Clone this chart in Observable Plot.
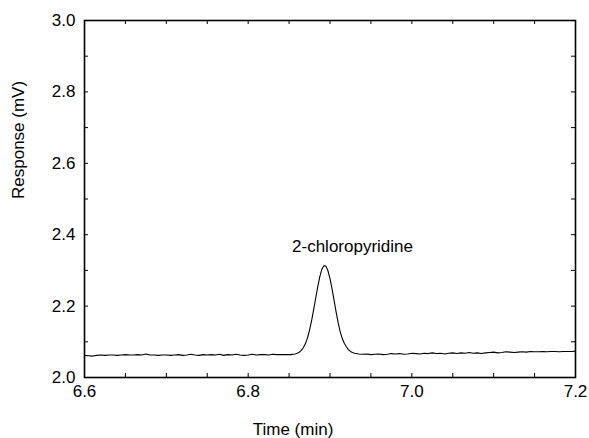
<!DOCTYPE html>
<html>
<head>
<meta charset="utf-8">
<script src="https://cdn.jsdelivr.net/npm/d3@7"></script>
<script src="https://cdn.jsdelivr.net/npm/@observablehq/plot@0.6"></script>
<style>
  html, body { margin: 0; padding: 0; background: #fff; }
</style>
</head>
<body>
<div id="chart"></div>
<script>
const time = [
  6.600, 6.605, 6.610, 6.615, 6.620, 6.625, 6.630, 6.635, 6.640, 6.645,
  6.650, 6.655, 6.660, 6.665, 6.670, 6.675, 6.680, 6.685, 6.690, 6.695,
  6.700, 6.705, 6.710, 6.715, 6.720, 6.725, 6.730, 6.735, 6.740, 6.745,
  6.750, 6.755, 6.760, 6.765, 6.770, 6.775, 6.780, 6.785, 6.790, 6.795,
  6.800, 6.805, 6.810, 6.815, 6.820, 6.825, 6.830, 6.835, 6.840, 6.845,
  6.8500, 6.8525, 6.8550, 6.8575, 6.8600, 6.8625, 6.8650, 6.8675, 6.8700, 6.8725,
  6.8750, 6.8775, 6.8800, 6.8825, 6.8850, 6.8875, 6.8900, 6.8925, 6.8950, 6.8975,
  6.9000, 6.9025, 6.9050, 6.9075, 6.9100, 6.9125, 6.9150, 6.9175, 6.9200, 6.9225,
  6.9250, 6.9275, 6.9300, 6.9325,
  6.935, 6.940, 6.945, 6.950, 6.955, 6.960, 6.965, 6.970, 6.975, 6.980,
  6.985, 6.990, 6.995, 7.000, 7.005, 7.010, 7.015, 7.020, 7.025, 7.030,
  7.035, 7.040, 7.045, 7.050, 7.055, 7.060, 7.065, 7.070, 7.075, 7.080,
  7.085, 7.090, 7.095, 7.100, 7.105, 7.110, 7.115, 7.120, 7.125, 7.130,
  7.135, 7.140, 7.145, 7.150, 7.155, 7.160, 7.165, 7.170, 7.175, 7.180,
  7.185, 7.190, 7.195, 7.200
];
const response = [
  2.062, 2.061, 2.060, 2.062, 2.063, 2.062, 2.063, 2.063, 2.062, 2.063,
  2.064, 2.063, 2.063, 2.064, 2.063, 2.066, 2.063, 2.063, 2.062, 2.063,
  2.063, 2.062, 2.063, 2.064, 2.062, 2.063, 2.065, 2.063, 2.062, 2.064,
  2.063, 2.064, 2.063, 2.065, 2.062, 2.064, 2.063, 2.065, 2.063, 2.062,
  2.063, 2.065, 2.063, 2.064, 2.064, 2.063, 2.065, 2.064, 2.064, 2.064,
  2.064, 2.064, 2.065, 2.066, 2.068, 2.071, 2.076, 2.084, 2.095, 2.111,
  2.133, 2.159, 2.190, 2.222, 2.254, 2.282, 2.303, 2.313, 2.312, 2.299,
  2.277, 2.248, 2.216, 2.183, 2.153, 2.128, 2.109, 2.096, 2.086, 2.078,
  2.073, 2.070, 2.068, 2.067,
  2.066, 2.065, 2.066, 2.064, 2.065, 2.066, 2.064, 2.065, 2.067, 2.066,
  2.067, 2.065, 2.066, 2.068, 2.067, 2.066, 2.068, 2.067, 2.069, 2.067,
  2.068, 2.066, 2.068, 2.069, 2.067, 2.069, 2.068, 2.070, 2.068, 2.069,
  2.067, 2.069, 2.070, 2.071, 2.069, 2.070, 2.072, 2.071, 2.070, 2.071,
  2.072, 2.071, 2.073, 2.072, 2.072, 2.073, 2.072, 2.073, 2.073, 2.072,
  2.073, 2.073, 2.073, 2.074
];

const xTickLabels = [6.6, 6.8, 7.0, 7.2];
const xTicks = [6.6, 6.65, 6.7, 6.75, 6.8, 6.85, 6.9, 6.95, 7.0, 7.05, 7.1, 7.15, 7.2];
const yTickLabels = [2.0, 2.2, 2.4, 2.6, 2.8, 3.0];
const yTicks = [2.0, 2.1, 2.2, 2.3, 2.4, 2.5, 2.6, 2.7, 2.8, 2.9, 3.0];

const peakLabel = ["2-chloropyridine"];
const peakLabelTime = [6.9275];
const peakLabelResponse = [2.367];

const xTitle = "Time (min)";
const yTitle = "Response (mV)";

const data = time.map((t, i) => ({time: t, response: response[i]}));
const labels = peakLabel.map((s, i) => ({text: s, time: peakLabelTime[i], response: peakLabelResponse[i]}));

const W = 589, H = 438, mL = 84, mR = 14, mT = 20, mB = 61;
const innerW = W - mL - mR, innerH = H - mT - mB;
const tick = 4;

const chart = Plot.plot({
  width: W,
  height: H,
  marginLeft: mL,
  marginRight: mR,
  marginTop: mT,
  marginBottom: mB,
  style: {fontFamily: "'Liberation Sans', Arial, sans-serif", fontSize: "17px", color: "#000", background: "#fff"},
  x: {domain: [6.6, 7.2]},
  y: {domain: [2.0, 3.0]},
  marks: [
    Plot.line(data, {x: "time", y: "response", stroke: "#000", strokeWidth: 1.1}),
    Plot.tickX(xTicks, {x: d => d, insetTop: innerH - tick, stroke: "#000", strokeWidth: 1}),
    Plot.tickX(xTicks, {x: d => d, insetBottom: innerH - tick, stroke: "#000", strokeWidth: 1}),
    Plot.tickY(yTicks, {y: d => d, insetRight: innerW - tick, stroke: "#000", strokeWidth: 1}),
    Plot.tickY(yTicks, {y: d => d, insetLeft: innerW - tick, stroke: "#000", strokeWidth: 1}),
    Plot.axisX(xTickLabels, {anchor: "bottom", tickSize: 0, tickPadding: 7, tickFormat: d3.format(".1f"), label: null, fill: "#000"}),
    Plot.axisY(yTickLabels, {anchor: "left", tickSize: 0, tickPadding: 9, tickFormat: d3.format(".1f"), label: null, fill: "#000"}),
    Plot.frame({stroke: "#000", strokeWidth: 1.6}),
    Plot.text(labels, {x: "time", y: "response", text: "text", fill: "#000"}),
    Plot.text([xTitle], {text: d => d, frameAnchor: "bottom", dy: 57, dx: -37, fill: "#000"}),
    Plot.text([yTitle], {text: d => d, frameAnchor: "left", rotate: -90, dx: -66, fill: "#000"})
  ]
});
document.getElementById("chart").appendChild(chart);
</script>
</body>
</html>
